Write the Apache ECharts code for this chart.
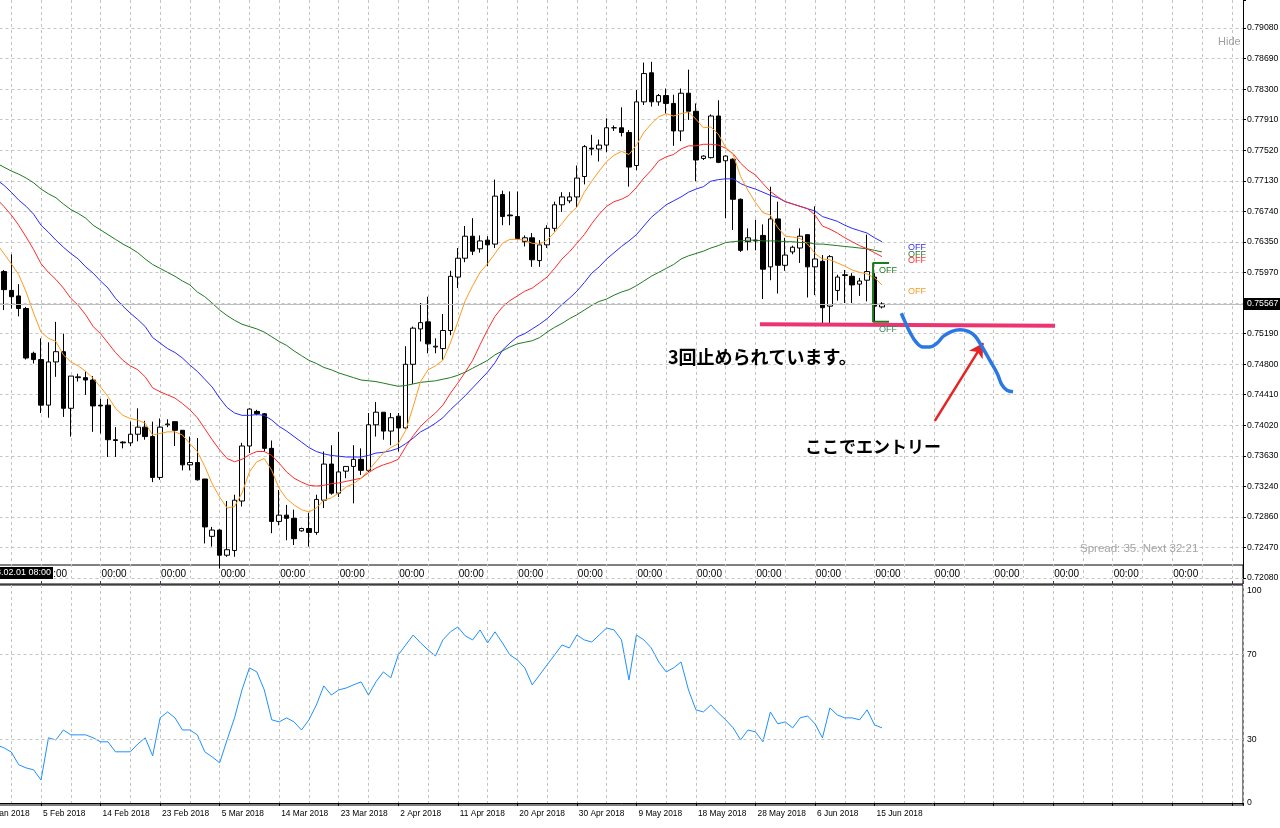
<!DOCTYPE html>
<html>
<head>
<meta charset="utf-8">
<script src="https://cdn.jsdelivr.net/npm/echarts@6/dist/echarts.min.js"></script>
<style>
html,body{margin:0;padding:0;background:#ffffff;}
#chart{width:1280px;height:828px;}
</style>
</head>
<body>
<div id="chart"></div>
<script>
// ---------- categories (daily bars incl. Sunday bars) ----------
const dates = [
'26 Jan 2018','28 Jan 2018','29 Jan 2018','30 Jan 2018','31 Jan 2018',
'1 Feb 2018','2 Feb 2018','4 Feb 2018','5 Feb 2018','6 Feb 2018','7 Feb 2018','8 Feb 2018','9 Feb 2018',
'11 Feb 2018','12 Feb 2018','13 Feb 2018','14 Feb 2018','15 Feb 2018','16 Feb 2018',
'18 Feb 2018','19 Feb 2018','20 Feb 2018','21 Feb 2018','22 Feb 2018','23 Feb 2018',
'25 Feb 2018','26 Feb 2018','27 Feb 2018','28 Feb 2018','1 Mar 2018','2 Mar 2018',
'4 Mar 2018','5 Mar 2018','6 Mar 2018','7 Mar 2018','8 Mar 2018','9 Mar 2018',
'11 Mar 2018','12 Mar 2018','13 Mar 2018','14 Mar 2018','15 Mar 2018','16 Mar 2018',
'18 Mar 2018','19 Mar 2018','20 Mar 2018','21 Mar 2018','22 Mar 2018','23 Mar 2018',
'25 Mar 2018','26 Mar 2018','27 Mar 2018','28 Mar 2018','29 Mar 2018','30 Mar 2018',
'1 Apr 2018','2 Apr 2018','3 Apr 2018','4 Apr 2018','5 Apr 2018','6 Apr 2018',
'8 Apr 2018','9 Apr 2018','10 Apr 2018','11 Apr 2018','12 Apr 2018','13 Apr 2018',
'15 Apr 2018','16 Apr 2018','17 Apr 2018','18 Apr 2018','19 Apr 2018','20 Apr 2018',
'22 Apr 2018','23 Apr 2018','24 Apr 2018','25 Apr 2018','26 Apr 2018','27 Apr 2018',
'29 Apr 2018','30 Apr 2018','1 May 2018','2 May 2018','3 May 2018','4 May 2018',
'6 May 2018','7 May 2018','8 May 2018','9 May 2018','10 May 2018','11 May 2018',
'13 May 2018','14 May 2018','15 May 2018','16 May 2018','17 May 2018','18 May 2018',
'20 May 2018','21 May 2018','22 May 2018','23 May 2018','24 May 2018','25 May 2018',
'27 May 2018','28 May 2018','29 May 2018','30 May 2018','31 May 2018','1 Jun 2018',
'3 Jun 2018','4 Jun 2018','5 Jun 2018','6 Jun 2018','7 Jun 2018','8 Jun 2018',
'10 Jun 2018','11 Jun 2018','12 Jun 2018','13 Jun 2018','14 Jun 2018','15 Jun 2018',
'17 Jun 2018'
];

// ---------- OHLC (aligned with dates) ----------
const openP = [null,null,null,
.7598,.7574,.7567,.7551,.7494,.7486,.7428,.7483,.7496,.7424,
.7463,.7463,.7460,.7428,.7428,.7384,.7381,.7380,.7391,.7400,
.7388,.7336,.7403,.7407,.7396,.7352,.7355,.7334,.7261,.7269,
.7237,.7243,.7306,.7376,.7420,.7417,.7373,.7280,.7288,.7284,
.7268,.7271,.7266,.7307,.7353,.7316,.7344,.7350,.7359,.7345,
.7403,.7419,.7395,.7414,.7399,.7480,.7525,.7534,.7502,.7500,
.7523,.7591,.7615,.7643,.7627,.7638,.7633,.7696,.7670,.7668,
.7636,.7641,.7612,.7632,.7653,.7683,.7688,.7693,.7719,.7755,
.7754,.7759,.7781,.7781,.7775,.7733,.7814,.7851,.7814,.7822,
.7812,.7777,.7825,.7802,.7742,.7743,.7796,.7739,.7741,.7690,
.7636,.7638,.7644,.7604,.7665,.7606,.7623,.7628,.7645,.7604,
.7611,.7554,.7574,.7593,.7592,.7582,.7587,.7591,.7553];
const closeP = [null,null,null,
.7575,.7566,.7551,.7488,.7486,.7428,.7483,.7496,.7424,.7465,
.7464,.7460,.7427,.7427,.7384,.7383,.7380,.7391,.7400,.7388,
.7336,.7400,.7404,.7396,.7352,.7355,.7333,.7273,.7269,.7237,
.7244,.7307,.7376,.7423,.7417,.7373,.7280,.7288,.7284,.7258,
.7271,.7266,.7308,.7353,.7316,.7343,.7350,.7359,.7345,.7403,
.7419,.7395,.7412,.7399,.7480,.7526,.7533,.7506,.7503,.7523,
.7592,.7615,.7643,.7624,.7637,.7632,.7694,.7668,.7669,.7640,
.7641,.7613,.7632,.7653,.7683,.7693,.7693,.7717,.7757,.7754,
.7759,.7781,.7781,.7775,.7731,.7814,.7850,.7814,.7822,.7812,
.7777,.7825,.7802,.7740,.7745,.7796,.7737,.7745,.7690,.7625,
.7641,.7637,.7601,.7665,.7606,.7619,.7629,.7643,.7604,.7614,
.7552,.7617,.7591,.7594,.7581,.7586,.7598,.7554,.75567];
const lowP = [null,null,null,
.7549,.7551,.7541,.7486,.7481,.7418,.7412,.7464,.7413,.7388,
.7458,.7441,.7394,.7392,.7362,.7362,.7373,.7376,.7382,.7384,
.7330,.7333,.7400,.7376,.7345,.7345,.7332,.7252,.7248,.7220,
.7235,.7235,.7299,.7367,.7415,.7369,.7265,.7275,.7256,.7250,
.7267,.7248,.7263,.7297,.7314,.7311,.7335,.7303,.7339,.7343,
.7388,.7384,.7377,.7369,.7398,.7455,.7509,.7494,.7494,.7486,
.7517,.7577,.7610,.7619,.7622,.7605,.7628,.7657,.7657,.7639,
.7630,.7604,.7604,.7628,.7649,.7674,.7685,.7680,.7709,.7746,
.7738,.7750,.7777,.7770,.7706,.7727,.7810,.7808,.7809,.7799,
.7758,.7764,.7791,.7713,.7740,.7742,.7736,.7666,.7651,.7623,
.7625,.7625,.7563,.7587,.7570,.7599,.7620,.7609,.7565,.7568,
.7531,.7531,.7561,.7558,.7558,.7567,.7560,.7534,.7551];
const highP = [null,null,null,
.7600,.7620,.7582,.7553,.7496,.7513,.7508,.7534,.7519,.7465,
.7468,.7471,.7465,.7436,.7436,.7400,.7382,.7407,.7424,.7408,
.7407,.7411,.7410,.7407,.7396,.7388,.7386,.7334,.7273,.7270,
.7306,.7314,.7380,.7424,.7422,.7418,.7383,.7320,.7301,.7295,
.7272,.7291,.7314,.7369,.7377,.7394,.7350,.7377,.7373,.7418,
.7432,.7419,.7418,.7418,.7503,.7528,.7558,.7566,.7513,.7544,
.7599,.7628,.7656,.7666,.7644,.7643,.7715,.7701,.7700,.7700,
.7644,.7647,.7638,.7657,.7687,.7699,.7699,.7733,.7759,.7772,
.7766,.7793,.7784,.7807,.7778,.7829,.7864,.7865,.7824,.7831,
.7823,.7831,.7855,.7812,.7746,.7798,.7816,.7746,.7742,.7691,
.7653,.7664,.7658,.7706,.7687,.7641,.7631,.7653,.7645,.7681,
.7619,.7619,.7594,.7600,.7596,.7590,.7645,.7596,.7559];

// ---------- moving averages (aligned with dates) ----------
const maOrange = [null,null,
.7634,.7621,.7608,.7594,.7572,.7545,.7521,.7513,.7509,.7492,
.7483,.7478,.7471,.7462,.7451,.7439,.7424,.7415,.7411,.7409,
.7405,.7390,.7392,.7394,.7394,.7390,.7379,.7369,.7350,.7328,
.7311,.7297,.7299,.7316,.7343,.7356,.7360,.7345,.7322,.7309,
.7301,.7295,.7292,.7297,.7307,.7310,.7316,.7324,.7328,.7335,
.7345,.7356,.7367,.7374,.7379,.7396,.7426,.7458,.7473,.7478,
.7485,.7507,.7534,.7561,.7580,.7597,.7608,.7621,.7634,.7639,
.7639,.7638,.7634,.7633,.7638,.7648,.7659,.7671,.7680,.7699,
.7713,.7726,.7738,.7746,.7751,.7747,.7759,.7775,.7786,.7795,
.7799,.7796,.7799,.7801,.7792,.7781,.7782,.7773,.7756,.7747,
.7719,.7701,.7686,.7673,.7670,.7654,.7643,.7642,.7640,.7633,
.7621,.7614,.7613,.7609,.7605,.7600,.7597,.7595,.7590,.7581];
const maRed = [null,null,
.7691,.7681,.7670,.7657,.7642,.7626,.7608,.7597,.7588,.7577,
.7564,.7555,.7543,.7528,.7519,.7507,.7495,.7485,.7478,.7473,
.7464,.7450,.7445,.7441,.7437,.7430,.7422,.7412,.7398,.7384,
.7371,.7360,.7356,.7359,.7365,.7369,.7369,.7364,.7354,.7343,
.7335,.7330,.7326,.7325,.7326,.7328,.7329,.7331,.7333,.7335,
.7342,.7348,.7352,.7355,.7359,.7375,.7389,.7401,.7410,.7418,
.7428,.7443,.7456,.7470,.7485,.7505,.7524,.7541,.7553,.7561,
.7567,.7573,.7577,.7584,.7591,.7602,.7614,.7623,.7634,.7645,
.7659,.7671,.7681,.7687,.7690,.7695,.7705,.7717,.7727,.7739,
.7744,.7747,.7754,.7758,.7758,.7760,.7760,.7759,.7755,.7748,
.7736,.7727,.7721,.7710,.7700,.7693,.7687,.7684,.7681,.7678,
.7670,.7656,.7652,.7647,.7641,.7636,.7631,.7627,.7622,.7617];
const maBlue = [null,null,
.7715,.7708,.7699,.7689,.7681,.7671,.7657,.7648,.7638,.7629,
.7621,.7614,.7604,.7596,.7586,.7577,.7564,.7554,.7545,.7537,
.7528,.7514,.7507,.7500,.7495,.7488,.7479,.7471,.7461,.7451,
.7437,.7425,.7418,.7415,.7415,.7416,.7415,.7409,.7401,.7395,
.7388,.7381,.7374,.7369,.7366,.7364,.7363,.7362,.7362,.7362,
.7364,.7367,.7368,.7370,.7373,.7379,.7386,.7394,.7399,.7405,
.7412,.7422,.7431,.7440,.7450,.7460,.7470,.7482,.7498,.7507,
.7515,.7519,.7525,.7531,.7538,.7547,.7556,.7564,.7573,.7584,
.7596,.7604,.7614,.7622,.7630,.7637,.7645,.7656,.7667,.7675,
.7683,.7688,.7693,.7699,.7703,.7706,.7713,.7715,.7716,.7716,
.7710,.7706,.7703,.7699,.7695,.7692,.7687,.7684,.7681,.7678,
.7675,.7668,.7665,.7662,.7657,.7653,.7650,.7647,.7641,.7636];
const maGreen = [null,null,
.7736,.7731,.7726,.7722,.7717,.7711,.7703,.7697,.7692,.7684,
.7677,.7672,.7666,.7657,.7651,.7645,.7639,.7633,.7628,.7622,
.7614,.7607,.7602,.7597,.7592,.7586,.7581,.7572,.7566,.7558,
.7549,.7542,.7536,.7531,.7528,.7525,.7521,.7515,.7509,.7504,
.7497,.7491,.7485,.7481,.7476,.7473,.7469,.7466,.7463,.7460,
.7459,.7458,.7456,.7454,.7452,.7453,.7455,.7457,.7458,.7459,
.7461,.7463,.7466,.7470,.7475,.7480,.7485,.7492,.7497,.7502,
.7506,.7508,.7510,.7514,.7521,.7527,.7532,.7538,.7543,.7549,
.7555,.7560,.7563,.7568,.7572,.7575,.7580,.7586,.7592,.7597,
.7602,.7607,.7614,.7618,.7621,.7624,.7628,.7631,.7635,.7636,
.7637,.7638,.7638,.7637,.7637,.7637,.7636,.7636,.7635,.7635,
.7633,.7633,.7632,.7631,.7630,.7629,.7628,.7627,.7625,.7623];

// ---------- oscillator (lower window) ----------
const rsi = [null,null,
27.4,26,24,18,16.5,15.6,10.8,30.7,29.7,34.4,
32.1,32.1,32.1,30.7,28.8,28.8,24.1,24.1,24.1,27.8,
30.7,22.2,40.1,42.9,40.1,34.4,34.4,32.1,24.1,21.7,
18.9,29.7,40.1,53.3,63.7,61.8,53.3,39.2,38.2,40.1,
38.2,34.4,39.2,46.2,55.2,50.9,53.3,54.2,55.7,57.1,
50.9,57.1,61.8,59,69.8,74.5,79.2,75.5,72.2,69.3,
76.9,80.7,83,78.8,76.9,81.6,75.5,80.7,75.5,69.8,
67.5,63.7,55.7,60.4,65.1,69.8,74.5,73.1,79.2,76.9,
75.9,79.2,82.5,81.6,76.9,58,79.2,76.9,73.1,66.5,
61.8,63.7,66.5,53.3,43.9,42.9,46.2,42.5,39.2,35.4,
29.7,34.4,33.5,28.8,42.9,37.3,38.2,35.4,40.1,41,
37.3,30.7,44.8,41.5,40.1,40.1,39.2,43.9,36.8,35.4];

// ---------- axis tick labels ----------
const priceTickLabels = ['0.72080','0.72470','0.72860','0.73240','0.73630','0.74020','0.74410','0.74800','0.75190','',
 '0.75970','0.76350','0.76740','0.77130','0.77520','0.77910','0.78300','0.78690','0.79080'];
const rsiTickLabels = [0,30,70,100];
const rsiLevels = [30,70];
const bidPrice = 0.75567;
const stripLabel = '00:00';
const crosshairLabel = '2018.02.01 08:00';

// ---------- hand-drawn annotations (bar index, price) ----------
const supportLine = [[104.6,0.7531],[144.25,0.7529]];
const scenarioCurve = [[123.6,0.7545],[124.1,0.7534],[124.8,0.7520],[125.6,0.7508],[126.5,0.7502],[127.4,0.7502],
 [128.4,0.7507],[129.3,0.7516],[130.4,0.7522],[131.5,0.7524],[132.6,0.7522],[133.5,0.7516],[134.4,0.7503],
 [135.5,0.7485],[136.5,0.7468],[137.1,0.7454],[137.8,0.7447],[138.6,0.7445]];
const arrowFrom = [128.1,0.7408];
const arrowTo = [134.6,0.7507];
const bracket = [[121.95,0.7609],[119.8,0.7609],[119.8,0.7534],[121.95,0.7534]];
const noteStop = '3回止められています。';
const noteEntry = 'ここでエントリー';
const offText = 'OFF';

// ---------- layout / style ----------
const BAR = 7.442, GL = -18.5, GR = 1243;
const XMAX = (GR - GL) / BAR;
const PTOP_Y = 578, TICK_PX = 550 / 18;
const PRICE_MIN = 0.72080;
const PRICE_MAX = PRICE_MIN + 0.07 * PTOP_Y / 550;
const LABEL_MAX = PTOP_Y / TICK_PX;
const GRIDC = '#c4c4c4';
const FONT = 'Liberation Sans';
const isInt = v => Math.abs(v - Math.round(v)) < 1e-6;

const candleData = [];
dates.forEach((d, j) => { if (openP[j] != null) candleData.push([j, openP[j], closeP[j], lowP[j], highP[j]]); });
const toXY = arr => arr.map((v, j) => v == null ? null : [j, v]).filter(p => p);

const chart = echarts.init(document.getElementById('chart'), null, {renderer: 'canvas'});
const dashed = {color: GRIDC, type: [3, 3], width: 1};
const noBounds = {outerBoundsMode: 'none', containLabel: false};

const option = {
  animation: false,
  backgroundColor: '#ffffff',
  grid: [
    Object.assign({left: GL, width: GR - GL, top: 0, height: PTOP_Y}, noBounds),
    Object.assign({left: GL, width: GR - GL, top: 565, height: 19, show: true, backgroundColor: '#ffffff', borderColor: '#000', borderWidth: 1}, noBounds),
    Object.assign({left: GL, width: GR - GL, top: 585, height: 220, show: true, backgroundColor: 'rgba(0,0,0,0)', borderColor: '#000', borderWidth: 1}, noBounds)
  ],
  xAxis: [
    {gridIndex: 0, type: 'value', min: 0, max: XMAX, interval: 4,
     axisLine: {show: false}, axisTick: {show: false}, axisLabel: {show: false},
     splitLine: {show: true, lineStyle: dashed}},
    {gridIndex: 1, type: 'value', min: 0, max: XMAX, interval: 8, position: 'bottom',
     axisLine: {show: false}, axisTick: {show: true, inside: true, length: 3, lineStyle: {color: '#5a2a6a'}},
     axisLabel: {inside: true, margin: 5, align: 'left', padding: [0, 0, 0, 1], fontFamily: FONT, fontSize: 10, color: '#000',
       formatter: v => (isInt(v) && v >= 8 && v <= 160) ? stripLabel : ''},
     splitLine: {show: false}},
    {gridIndex: 2, type: 'value', min: 0, max: XMAX, interval: 8, position: 'bottom',
     axisLine: {show: true, lineStyle: {color: '#000'}}, axisTick: {show: true, length: 3, lineStyle: {color: '#000'}},
     axisLabel: {margin: 5, align: 'left', padding: [0, 0, 0, 2], fontFamily: FONT, fontSize: 8.4, color: '#000',
       showMinLabel: true, formatter: v => isInt(v) ? (dates[Math.round(v)] || '') : ''},
     splitLine: {show: false}},
    {gridIndex: 2, type: 'value', min: 0, max: XMAX, interval: 4, position: 'top',
     axisLine: {show: false}, axisTick: {show: false}, axisLabel: {show: false},
     splitLine: {show: true, lineStyle: dashed}}
  ],
  yAxis: [
    {gridIndex: 0, type: 'value', min: PRICE_MIN, max: PRICE_MAX, show: false, position: 'left', splitLine: {show: false}},
    {gridIndex: 0, type: 'value', min: 0, max: LABEL_MAX, interval: 1, position: 'right',
     axisLine: {show: true, lineStyle: {color: '#000'}}, axisTick: {show: true, length: 3, lineStyle: {color: '#000'}},
     axisLabel: {margin: 4, fontFamily: FONT, fontSize: 8.7, color: '#000',
       formatter: v => isInt(v) ? (priceTickLabels[Math.round(v)] || '') : ''},
     splitLine: {show: true, showMaxLine: false, lineStyle: dashed}},
    {gridIndex: 1, type: 'value', min: 0, max: 1, show: false},
    {gridIndex: 2, type: 'value', min: -1, max: 102.8, interval: 1, position: 'right',
     axisLine: {show: true, lineStyle: {color: '#000'}}, axisTick: {show: false},
     axisLabel: {margin: 4, fontFamily: FONT, fontSize: 8.7, color: '#000',
       formatter: v => (isInt(v) && rsiTickLabels.indexOf(Math.round(v)) >= 0) ? String(Math.round(v)) : ''},
     splitLine: {show: false}}
  ],
  series: [
    {type: 'candlestick', xAxisIndex: 0, yAxisIndex: 0, data: candleData, barWidth: 5,
     encode: {x: 0, y: [1, 2, 3, 4]},
     itemStyle: {color: '#ffffff', color0: '#000000', borderColor: '#000000', borderColor0: '#000000', borderWidth: 1},
     z: 2},
    {type: 'line', name: 'MA green', xAxisIndex: 0, yAxisIndex: 0, data: toXY(maGreen), showSymbol: false, lineStyle: {color: '#1f7a1f', width: 1}, z: 3,
     markLine: {symbol: 'none', silent: true, animation: false, precision: 5,
       lineStyle: {color: '#bdbdbd', type: 'solid', width: 1},
       label: {show: true, position: 'end', distance: 1, formatter: bidPrice.toFixed(5), color: '#fff', backgroundColor: '#000',
         padding: [2, 3, 1, 3], fontFamily: FONT, fontSize: 8.7},
       data: [{yAxis: bidPrice}]}},
    {type: 'line', name: 'MA blue', xAxisIndex: 0, yAxisIndex: 0, data: toXY(maBlue), showSymbol: false, lineStyle: {color: '#2a2aff', width: 1}, z: 3},
    {type: 'line', name: 'MA red', xAxisIndex: 0, yAxisIndex: 0, data: toXY(maRed), showSymbol: false, lineStyle: {color: '#ff2a2a', width: 1}, z: 3},
    {type: 'line', name: 'MA orange', xAxisIndex: 0, yAxisIndex: 0, data: toXY(maOrange), showSymbol: false, lineStyle: {color: '#ff9a1e', width: 1}, z: 3},
    {type: 'line', name: 'bracket', xAxisIndex: 0, yAxisIndex: 0, data: bracket, showSymbol: false, lineStyle: {color: '#1f7a1f', width: 2}, z: 4},
    {type: 'line', name: 'support', xAxisIndex: 0, yAxisIndex: 0, data: supportLine, showSymbol: false, lineStyle: {color: '#ec3470', width: 4}, z: 5,
     markLine: {silent: true, animation: false, precision: 5, symbol: ['none', 'arrow'], symbolSize: [12, 14],
       lineStyle: {color: '#e62323', width: 2.5, type: 'solid'}, label: {show: false},
       data: [[{coord: arrowFrom}, {coord: arrowTo}]]}},
    {type: 'line', name: 'scenario', xAxisIndex: 0, yAxisIndex: 0, data: scenarioCurve, showSymbol: false, smooth: 0.4,
     lineStyle: {color: '#2a78e4', width: 3.5}, z: 5},
    {type: 'line', name: 'osc', xAxisIndex: 2, yAxisIndex: 3, data: toXY(rsi), showSymbol: false, lineStyle: {color: '#1e90ff', width: 1}, z: 3,
     markLine: {symbol: 'none', silent: true, animation: false, label: {show: false},
       lineStyle: {color: GRIDC, type: [3, 3], width: 1},
       data: rsiLevels.map(v => ({yAxis: v}))}}
  ],
  graphic: [
    {type: 'text', x: 668, y: 357, z: 100, style: {text: noteStop, font: 'bold 18px "Noto Sans CJK JP"', fill: '#000', verticalAlign: 'middle'}},
    {type: 'text', x: 805, y: 447, z: 100, style: {text: noteEntry, font: 'bold 17px "Noto Sans CJK JP"', fill: '#000', verticalAlign: 'middle'}},
    {type: 'text', x: 1218, y: 42, z: 100, style: {text: 'Hide', font: '11px "Liberation Sans"', fill: '#a0a0a0', verticalAlign: 'middle'}},
    {type: 'text', x: 1080, y: 549, z: 100, style: {text: 'Spread: 35. Next 32:21', font: '11.5px "Liberation Sans"', fill: '#a4a4a4', verticalAlign: 'middle'}},
    {type: 'text', x: 908, y: 248, z: 100, style: {text: offText, font: '9px "Liberation Sans"', fill: '#3030ff', verticalAlign: 'middle'}},
    {type: 'text', x: 908, y: 255, z: 100, style: {text: offText, font: '9px "Liberation Sans"', fill: '#2a7a2a', verticalAlign: 'middle'}},
    {type: 'text', x: 908, y: 261, z: 100, style: {text: offText, font: '9px "Liberation Sans"', fill: '#ff2a2a', verticalAlign: 'middle'}},
    {type: 'text', x: 908, y: 292, z: 100, style: {text: offText, font: '9px "Liberation Sans"', fill: '#ff9a1e', verticalAlign: 'middle'}},
    {type: 'text', x: 879, y: 271, z: 100, style: {text: offText, font: '9px "Liberation Sans"', fill: '#1f7a1f', verticalAlign: 'middle'}},
    {type: 'text', x: 879, y: 330, z: 100, style: {text: offText, font: '9px "Liberation Sans"', fill: '#2a8a5a', verticalAlign: 'middle'}},
    {type: 'text', x: 53, y: 573, z: 100, style: {text: crosshairLabel, font: '9px "Liberation Sans"', fill: '#fff', backgroundColor: '#000',
      align: 'right', verticalAlign: 'middle', padding: [2, 2, 1, 2]}}
  ]
};
chart.setOption(option);
</script>
</body>
</html>
